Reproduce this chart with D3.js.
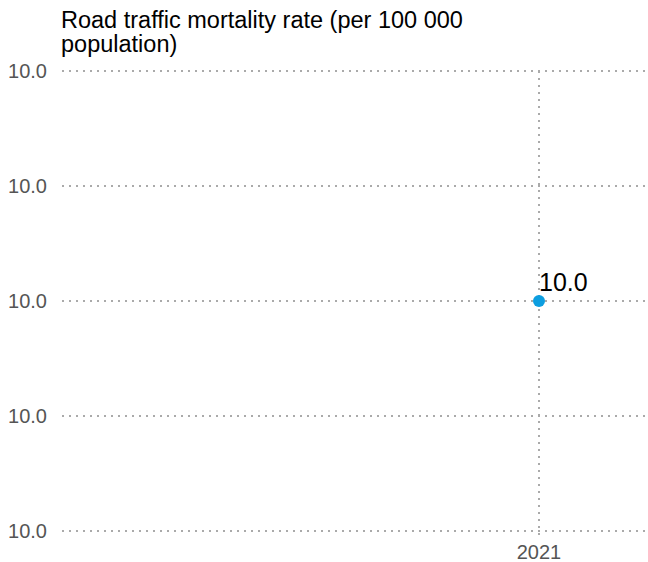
<!DOCTYPE html>
<html><head><meta charset="utf-8">
<script src="https://cdn.jsdelivr.net/npm/d3@7"></script>
<style>body{margin:0;background:#fff}svg{display:block;font-family:"Liberation Sans",Arial,sans-serif}</style>
</head><body>
<script>
const years = [2021];
const values = [10.0];
const yTicks = [9.96, 9.98, 10.0, 10.02, 10.04];
const titleLines = ["Road traffic mortality rate (per 100 000", "population)"];

const W = 648, H = 562;
const svg = d3.select("body").append("svg").attr("width", W).attr("height", H);
const mLeft = 62, mRight = 648, mTop = 71, mBottom = 531;

const x = d3.scaleLinear().domain([2000, 2021]).range([118, 539]);
const y = d3.scaleLinear().domain([yTicks[0], yTicks[yTicks.length-1]]).range([mBottom, mTop]);
const fmt = d3.format(".1f");

// title
svg.append("text").attr("x", 61).attr("y", 28).attr("font-size", 23.5).attr("fill", "#000")
  .selectAll("tspan").data(titleLines).join("tspan")
  .attr("x", 61).attr("dy", (d,i)=> i===0 ? 0 : 24).text(d=>d);

// y grid + labels
const gy = svg.append("g");
gy.selectAll("line").data(yTicks).join("line")
  .attr("x1", mLeft).attr("x2", mRight)
  .attr("y1", d=>y(d)).attr("y2", d=>y(d))
  .attr("stroke", "#aaa").attr("stroke-width", 2).attr("stroke-dasharray", "2,5");
gy.selectAll("text").data(yTicks).join("text")
  .attr("x", 47).attr("y", d=>y(d)).attr("dy", "0.35em")
  .attr("text-anchor", "end").attr("font-size", 20).attr("fill", "#555")
  .text(d=>fmt(d));

// vertical grid at each year
svg.selectAll(".vx").data(years).join("line").attr("class","vx")
  .attr("x1", d=>x(d)).attr("x2", d=>x(d)).attr("y1", mTop).attr("y2", mBottom + 4)
  .attr("stroke", "#aaa").attr("stroke-width", 2).attr("stroke-dasharray", "2,5");

// x labels
svg.selectAll(".xl").data(years).join("text").attr("class","xl")
  .attr("x", d=>x(d)).attr("y", 559).attr("text-anchor", "middle")
  .attr("font-size", 20).attr("fill", "#555").text(d=>d);

// points
const pts = years.map((yr,i)=>({yr, v: values[i]}));
svg.selectAll("circle").data(pts).join("circle")
  .attr("cx", d=>x(d.yr)).attr("cy", d=>y(d.v)).attr("r", 6).attr("fill", "#0d9ee0");
svg.selectAll(".vl").data(pts).join("text").attr("class","vl")
  .attr("x", d=>x(d.yr)).attr("y", d=>y(d.v) - 10)
  .attr("font-size", 25).attr("fill", "#000").text(d=>fmt(d.v));
</script>
</body></html>
